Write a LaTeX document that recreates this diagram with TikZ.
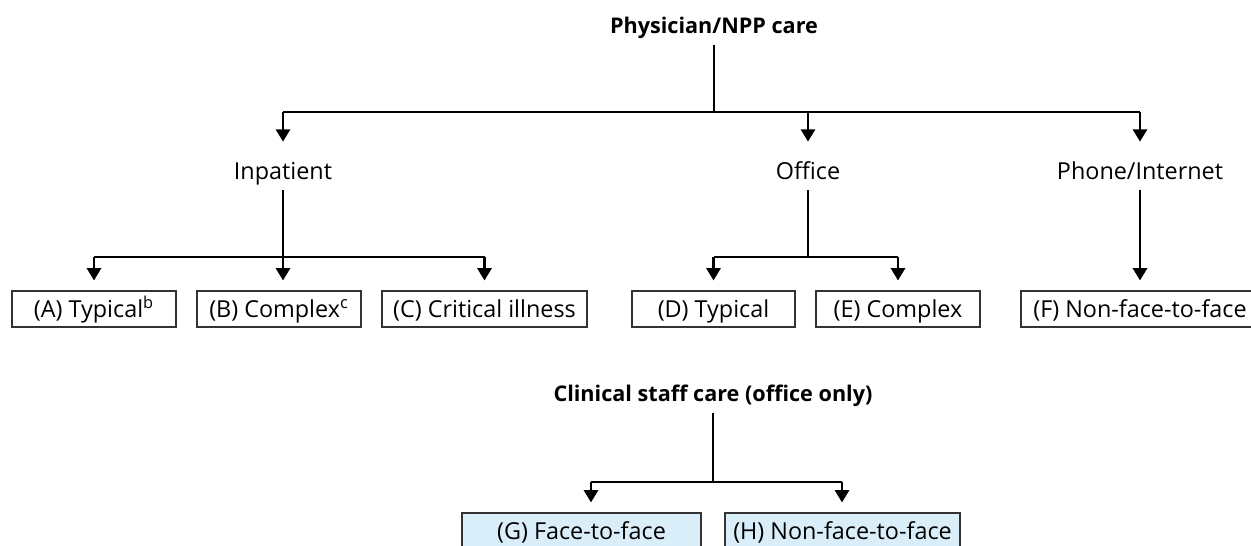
\documentclass[tikz,border=0pt]{standalone}
\usepackage{fontspec}
\setmainfont{Open Sans}
\usetikzlibrary{arrows.meta}
\definecolor{staffblue}{RGB}{218,238,250}

\begin{document}
\begin{tikzpicture}[
    conn/.style={line width=1.5pt},
    arr/.style={conn, -{Triangle[width=8pt,length=7pt]}, shorten >=0.2cm},
    head/.style={inner sep=0pt, minimum height=0.76cm, text height=9.5pt, text depth=0pt,
                 font=\fontsize{13.3}{15}\selectfont},
    title/.style={head, text height=8.6pt, font=\fontsize{12.3}{14}\selectfont\bfseries},
    box/.style={draw=black!80, line width=0.6pt, inner sep=0pt, minimum height=0.72cm,
                text height=9.5pt, text depth=0pt, font=\fontsize{13.3}{15}\selectfont},
    staff/.style={box, fill=staffblue}
]
    % Frame of the picture
    \clip (0,0) rectangle (25.02,10.92);

    % Top level
    \node[title] (phys) at (14.28,10.41) {Physician/NPP care};

    % Settings
    \node[head] (inp) at (5.66,7.50) {Inpatient};
    \node[head] (off) at (16.16,7.50) {Office};
    \node[head] (phone) at (22.80,7.50) {Phone/Internet};

    % Service boxes
    \node[box, minimum width=3.28cm] (A) at (1.88,4.74) {(A) Typical\textsuperscript{b}};
    \node[box, minimum width=3.28cm] (B) at (5.58,4.74) {(B) Complex\textsuperscript{c}};
    \node[box, minimum width=4.10cm] (C) at (9.69,4.74) {(C) Critical illness};
    \node[box, minimum width=3.26cm] (D) at (14.27,4.74) {(D) Typical};
    \node[box, minimum width=3.28cm] (E) at (17.96,4.74) {(E) Complex};
    \node[box, minimum width=4.76cm] (F) at (22.80,4.74) {(F) Non-face-to-face};

    % Junctions
    \coordinate (pj) at (14.28,8.68);
    \coordinate (ij) at (5.66,5.78);
    \coordinate (oj) at (16.16,5.78);

    % Physician tree
    \draw[conn] (phys) -- (pj);
    \draw[conn] (pj -| inp) -- (pj -| phone);
    \draw[arr] (pj -| inp) -- (inp);
    \draw[arr] (pj -| off) -- (off);
    \draw[arr] (pj -| phone) -- (phone);

    % Inpatient branch
    \draw[conn] (inp) -- (ij);
    \draw[conn] (ij -| A) -- (ij -| C);
    \draw[arr] (ij -| A) -- (A);
    \draw[arr] (ij) -- (ij |- B.north);
    \draw[arr] (ij -| C) -- (C);

    % Office branch
    \draw[conn] (off) -- (oj);
    \draw[conn] (oj -| D) -- (oj -| E);
    \draw[arr] (oj -| D) -- (D);
    \draw[arr] (oj -| E) -- (E);

    % Phone branch
    \draw[arr] (phone) -- (F);

    % Clinical staff tree
    \node[title] (staffcare) at (14.26,3.05) {Clinical staff care (office only)};
    \node[staff, minimum width=4.78cm] (G) at (11.63,0.30) {(G) Face-to-face};
    \node[staff, minimum width=4.70cm] (H) at (16.85,0.30) {(H) Non-face-to-face};
    \coordinate (sj) at (14.26,1.28);
    \coordinate (gj) at (11.82,1.28);
    \coordinate (hj) at (16.84,1.28);

    \draw[conn] (staffcare) -- (sj);
    \draw[conn] (gj) -- (hj);
    \draw[arr] (gj) -- (gj |- G.north);
    \draw[arr] (hj) -- (hj |- H.north);
\end{tikzpicture}
\end{document}
